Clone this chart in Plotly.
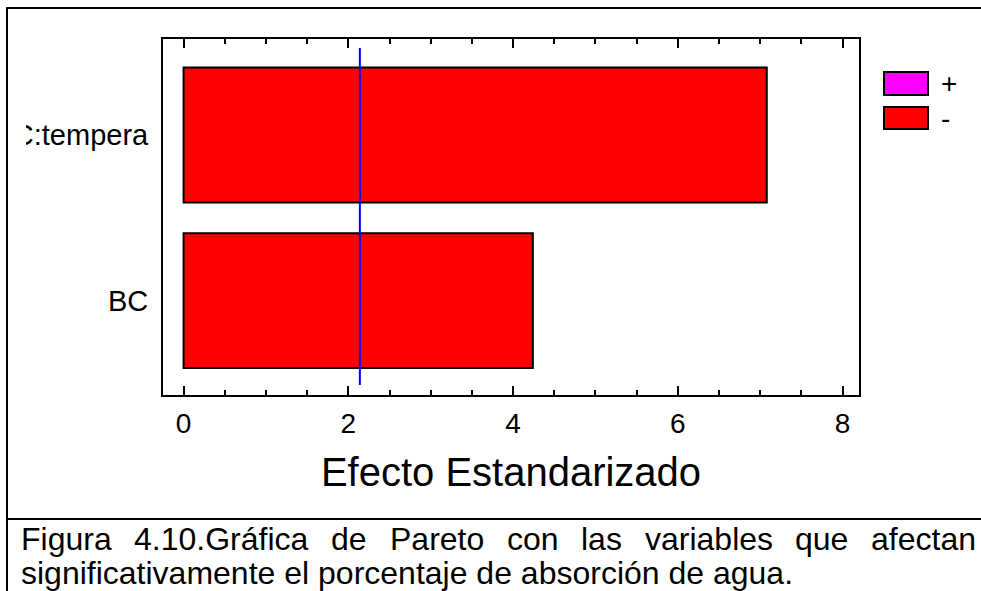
import plotly.graph_objects as go

# ---- data ----
effects = ["BC", "C:tempera"]
effect_values = [4.24, 7.08]
effect_signs = ["-", "-"]
critical_value = 2.14
legend_labels = ["+", "-"]
sign_colors = {"+": "#FF00FF", "-": "#FF0000"}
x_tick_values = [0, 2, 4, 6, 8]
x_title = "Efecto Estandarizado"
caption_line1 = ["Figura", "4.10.Gráfica", "de", "Pareto", "con", "las", "variables", "que", "afectan"]
caption_line2 = "significativamente el porcentaje de absorción de agua."

FONT = "Liberation Sans, Arial, sans-serif"
W, H = 981, 591
L, R, T, B = 163, 859, 39, 395


def px(x):
    return (x - L) / (R - L)


def py(y):
    return (B - y) / (B - T)


fig = go.Figure()
fig.add_trace(go.Bar(
    y=effects, x=effect_values, orientation="h",
    marker=dict(color=[sign_colors[s] for s in effect_signs],
                line=dict(color="black", width=2)),
    width=0.815, showlegend=False, hoverinfo="x+y",
))

shapes = []
# critical value line
shapes.append(dict(type="line", xref="x", yref="paper", x0=critical_value, x1=critical_value,
                   y0=py(385), y1=py(48), line=dict(color="#0000FF", width=2), layer="above"))
# white mask clipping the left of the long label
shapes.append(dict(type="rect", xref="paper", yref="paper", x0=px(9), x1=px(26), y0=py(160), y1=py(110),
                   fillcolor="white", line=dict(width=0), layer="above"))
# outer frame
shapes.append(dict(type="line", xref="paper", yref="paper", x0=px(7), x1=px(7), y0=py(7), y1=py(600),
                   line=dict(color="black", width=2), layer="above"))
shapes.append(dict(type="line", xref="paper", yref="paper", x0=px(6), x1=px(990), y0=py(8), y1=py(8),
                   line=dict(color="black", width=2), layer="above"))
shapes.append(dict(type="line", xref="paper", yref="paper", x0=px(6), x1=px(990), y0=py(519), y1=py(519),
                   line=dict(color="black", width=2), layer="above"))

annotations = []
# legend boxes
legend_boxes = [(72, 95), (107, 129)]
for lab, (y0, y1) in zip(legend_labels, legend_boxes):
    shapes.append(dict(type="rect", xref="paper", yref="paper", x0=px(884), x1=px(928), y0=py(y1), y1=py(y0),
                       fillcolor=sign_colors[lab], line=dict(color="black", width=2), layer="above"))
    annotations.append(dict(xref="paper", yref="paper", x=px(939), y=py((y0 + y1) / 2), text=lab,
                            showarrow=False, xanchor="left", yanchor="middle",
                            font=dict(family=FONT, size=28, color="black")))

# caption (justified first line)
word_x = [20, 133, 330, 389, 506, 580, 644, 794, 870]
for w, xw in zip(caption_line1, word_x):
    annotations.append(dict(xref="paper", yref="paper", x=px(xw), y=py(539), text=w, showarrow=False,
                            xanchor="left", yanchor="middle", borderpad=0,
                            font=dict(family=FONT, size=32, color="black")))
annotations.append(dict(xref="paper", yref="paper", x=px(20), y=py(573), text=caption_line2, showarrow=False,
                        xanchor="left", yanchor="middle", borderpad=0,
                        font=dict(family=FONT, size=32, color="black")))

fig.update_layout(
    width=W, height=H,
    margin=dict(l=L, r=W - R, t=T, b=H - B, pad=0),
    paper_bgcolor="white", plot_bgcolor="white",
    font=dict(family=FONT, color="black"),
    showlegend=False,
    shapes=shapes, annotations=annotations,
    xaxis=dict(range=[-0.25, 8.2], tickvals=x_tick_values, ticks="inside", ticklen=9, tickwidth=2,
               tickcolor="black", showline=True, linewidth=2, linecolor="black", mirror="ticks",
               showgrid=False, zeroline=False, tickfont=dict(size=28), ticklabelstandoff=2,
               minor=dict(ticks="inside", ticklen=5, tickwidth=2, tickcolor="black", dtick=0.5, tick0=0,
                          showgrid=False),
               title=dict(text=x_title, font=dict(size=40), standoff=20), automargin=False),
    yaxis=dict(type="category", categoryorder="array", categoryarray=effects, range=[-0.57, 1.58],
               showline=True, linewidth=2, linecolor="black", mirror=True, ticks="",
               showgrid=False, zeroline=False, tickfont=dict(size=29), ticklabelstandoff=7,
               automargin=False),
)

fig.write_html("out.html", config={"displayModeBar": False},
               post_script="document.body.style.margin='0';")
